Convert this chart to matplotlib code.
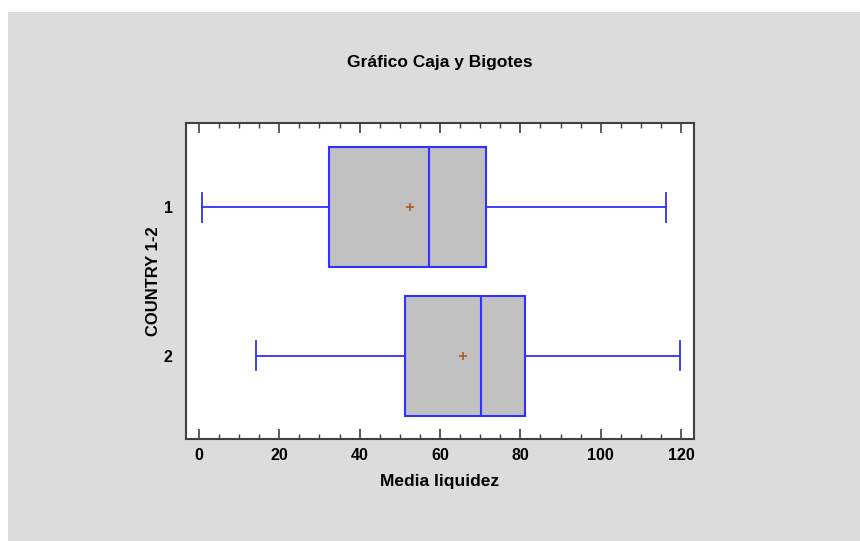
import matplotlib.pyplot as plt
from matplotlib.patches import Rectangle

# Box statistics (one entry per country group)
groups = ["1", "2"]
whislo = [0.8, 14.2]
q1 = [32.4, 51.3]
med = [57.3, 70.2]
mean = [52.5, 65.7]
q3 = [71.4, 81.2]
whishi = [116.3, 119.7]

plt.rcParams['font.family'] = ['Liberation Sans', 'DejaVu Sans']
plt.rcParams['font.weight'] = 'bold'

fig = plt.figure(figsize=(8.6, 5.41), dpi=100)
fig.patch.set_facecolor('white')
# gray panel behind everything
fig.patches.append(Rectangle((8 / 860, 0), 1 - 8 / 860, 1 - 12 / 541,
                             transform=fig.transFigure, facecolor='#dcdcdc',
                             edgecolor='none', zorder=-1))

ax = fig.add_axes([186 / 860, 1 - 438.5 / 541, 508 / 860, 315.5 / 541])
ax.set_facecolor('white')

stats = []
for i in range(len(groups)):
    stats.append(dict(label=groups[i], whislo=whislo[i], q1=q1[i], med=med[i],
                      mean=mean[i], q3=q3[i], whishi=whishi[i], fliers=[]))

blue = '#3030ff'
ax.bxp(stats, positions=[1, 2], widths=0.81, capwidths=0.2,
       orientation='horizontal', patch_artist=True, showmeans=True,
       boxprops=dict(facecolor='#c0c0c0', edgecolor=blue, linewidth=1.5),
       medianprops=dict(color=blue, linewidth=1.5),
       whiskerprops=dict(color=blue, linewidth=1.3),
       capprops=dict(color=blue, linewidth=1.3),
       meanprops=dict(marker='+', markeredgecolor='#b05a20', markersize=6,
                      markeredgewidth=1.2))

ax.set_xlim(-3.2, 123.2)
ax.set_ylim(2.56, 0.43)
ax.set_xticks([0, 20, 40, 60, 80, 100, 120])
ax.set_xticks(range(0, 121, 5), minor=True)
ax.tick_params(axis='x', which='major', direction='in', length=7, width=1.2,
               top=True, labelsize=11.5, color='#404040', pad=7)
ax.tick_params(axis='x', which='minor', direction='in', length=3.5, width=1,
               top=True, color='#404040')
ax.tick_params(axis='y', length=0, labelsize=11.5, pad=9.5)
ax.set_yticks([1, 2])
ax.set_yticklabels(groups)
for s in ax.spines.values():
    s.set_color('#404040')
    s.set_linewidth(1.5)

ax.set_xlabel('Media liquidez', fontsize=12.5, fontweight='bold', labelpad=8)
ax.set_ylabel('COUNTRY 1-2', fontsize=12, fontweight='bold', labelpad=2)
fig.text(440 / 860, 1 - 62 / 541, 'Gráfico Caja y Bigotes', ha='center',
         va='center', fontsize=12.5, fontweight='bold')

fig.savefig('out.png', dpi=100)
